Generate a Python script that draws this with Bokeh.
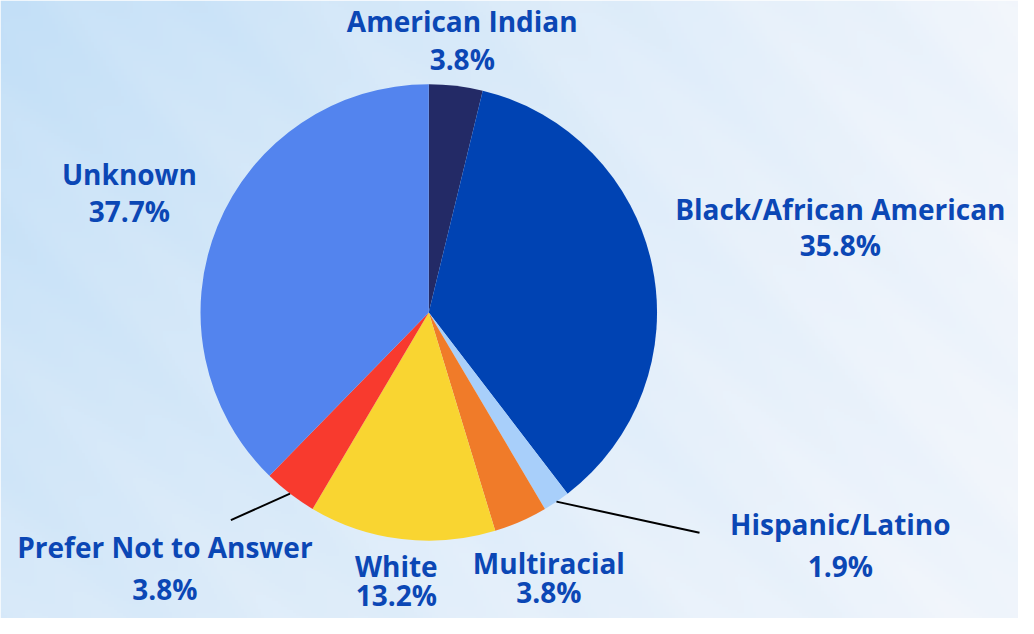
import numpy as np
from bokeh.plotting import figure
from bokeh.models import ColumnDataSource, Range1d
from bokeh.core.properties import value
from bokeh.embed import file_html
from bokeh.resources import INLINE

# ---- data ----
categories = ["American Indian", "Black/African American", "Hispanic/Latino",
              "Multiracial", "White", "Prefer Not to Answer", "Unknown"]
percents = [3.8, 35.8, 1.9, 3.8, 13.2, 3.8, 37.7]
colors = ["#232A66", "#0043B3", "#A8CFFA", "#F07B29", "#F9D531", "#F83A2E", "#5384EE"]
pct_labels = ["3.8%", "35.8%", "1.9%", "3.8%", "13.2%", "3.8%", "37.7%"]

# layout: reference pixels mapped onto the figure
W, H = 1018, 618
SX, SY = W / 1034, H / 634
def X(px): return px * SX
def Y(py): return H - py * SY

cx, cy, R = X(435), Y(320), 233 * (SX + SY) / 2

# label anchor positions (reference pixels, centre of name line / pct line)
label_x = [469, 853, 853, 557, 402, 167, 131]
name_y = [21, 214, 537, 577, 580, 561, 178]
pct_y = [60, 251, 580, 607, 610, 604, 216]
leader = {"Hispanic/Latino": (710, 546), "Prefer Not to Answer": (234, 533)}

p = figure(width=W, height=H, output_backend="svg", toolbar_location=None,
           x_range=Range1d(0, W), y_range=Range1d(0, H),
           min_border=0, outline_line_color=None)
p.axis.visible = False
p.grid.visible = False

# background gradient with diagonal streaks (decoration)
nx, ny = 340, 206
xs = np.linspace(0, 1, nx)
ys = np.linspace(0, 1, ny)
gx, gy = np.meshgrid(xs, ys)  # gy: 0 bottom .. 1 top
t = np.clip(0.08 + 0.85 * gx + 0.35 * (1 - gy) * (1 - gx), 0, 1)
diag = gx * 1.6 + gy * 1.0
streak = 0.035 * np.sin(diag * 18) + 0.02 * np.sin(diag * 47)
t = np.clip(t + streak, 0, 1)
c0 = np.array([192, 222, 247])
c1 = np.array([244, 247, 252])
rgb = c0[None, None, :] * (1 - t[..., None]) + c1[None, None, :] * t[..., None]
img = np.empty((ny, nx), dtype=np.uint32)
view = img.view(dtype=np.uint8).reshape((ny, nx, 4))
view[..., 0] = rgb[..., 0].astype(np.uint8)
view[..., 1] = rgb[..., 1].astype(np.uint8)
view[..., 2] = rgb[..., 2].astype(np.uint8)
view[..., 3] = 255
p.image_rgba(image=[img], x=0, y=0, dw=W, dh=H)

# pie wedges
frac = np.array(percents) / sum(percents)
cum = np.concatenate([[0], np.cumsum(frac)])
start = np.pi / 2 - cum[1:] * 2 * np.pi
end = np.pi / 2 - cum[:-1] * 2 * np.pi
src = ColumnDataSource(dict(start=start, end=end, color=colors, cat=categories))
p.wedge(x=cx, y=cy, radius=R, start_angle="start", end_angle="end",
        fill_color="color", line_color=None, source=src)

# leader lines
for i, cat in enumerate(categories):
    if cat in leader:
        mid = (cum[i] + cum[i + 1]) / 2 * 2 * np.pi
        sx = cx + R * np.sin(mid)
        sy = cy + R * np.cos(mid)
        ex, ey = leader[cat]
        p.line([sx, X(ex)], [sy, Y(ey)], line_color="black", line_width=2)

# labels
font = value("Open Sans")
txt = dict(text_font=font, text_font_style="bold", text_font_size="28px",
           text_color="#0B47B5", text_align="center", text_baseline="middle")
p.text(x=[X(v) for v in label_x], y=[Y(v) for v in name_y], text=categories, **txt)
p.text(x=[X(v) for v in label_x], y=[Y(v) for v in pct_y], text=pct_labels, **txt)

open("out.html", "w").write(file_html(p, INLINE))
